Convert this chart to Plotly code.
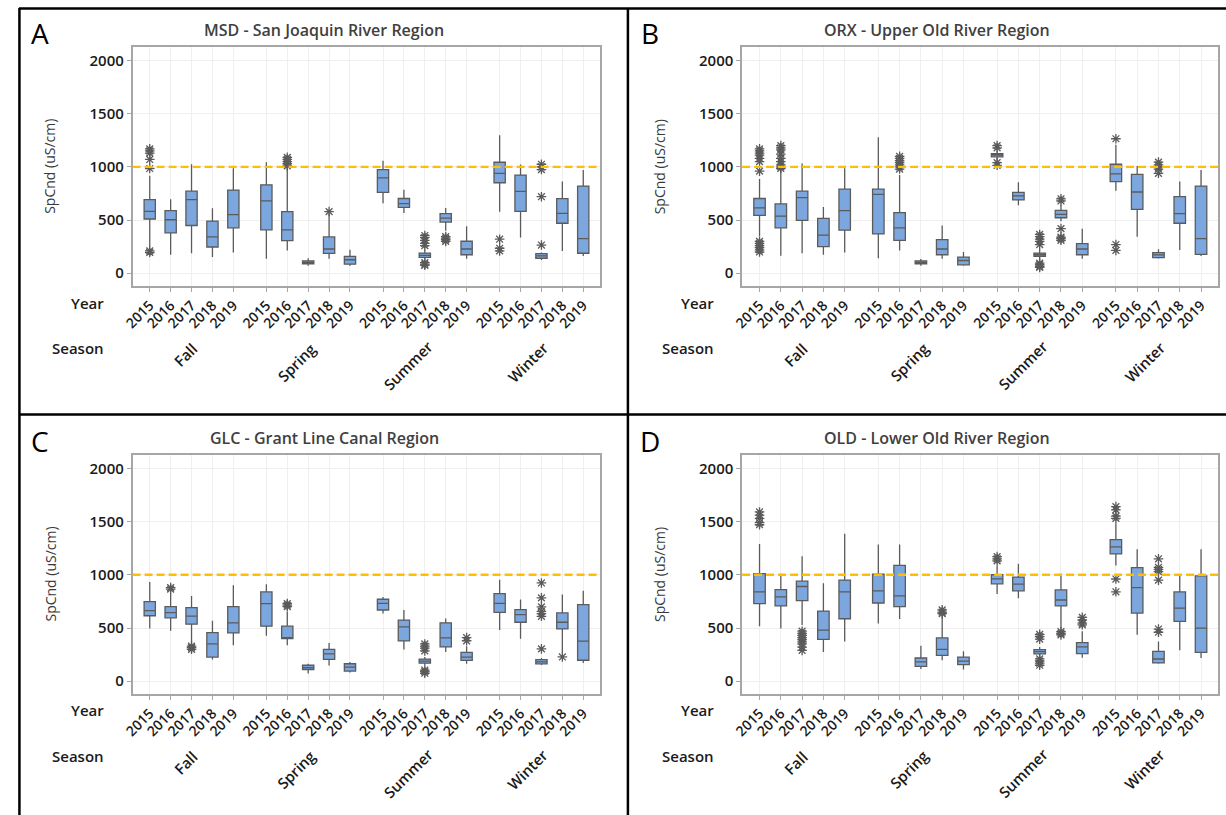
import plotly.graph_objects as go

W, H = 1226, 815

# ---------------- data ----------------
years = ["2015", "2016", "2017", "2018", "2019"]
seasons = ["Fall", "Spring", "Summer", "Winter"]
threshold = 1000

# order: Fall 2015..2019, Spring 2015..2019, Summer 2015..2019, Winter 2015..2019
A_title = "MSD - San Joaquin River Region"
A_q1 = [510, 380, 449, 247, 427, 408, 307, 88, 187, 85, 760, 620, 149, 481, 174, 851, 582, 141, 470, 188]
A_med = [582, 503, 693, 342, 551, 680, 408, 100, 228, 127, 896, 655, 168, 519, 228, 940, 770, 163, 563, 326]
A_q3 = [693, 589, 772, 491, 782, 832, 579, 115, 342, 158, 975, 703, 190, 560, 301, 1044, 923, 185, 701, 820]
A_lo = [253, 174, 187, 152, 196, 136, 215, 70, 136, 70, 658, 567, 133, 400, 136, 579, 335, 125, 210, 163]
A_hi = [918, 696, 1025, 611, 987, 1044, 997, 140, 560, 222, 1057, 785, 222, 614, 443, 1298, 1023, 194, 864, 970]
A_out_box = [0, 0, 0, 0, 0, 0, 0, 6, 6, 6, 6, 6, 8, 12, 12, 12, 12, 12, 12, 12, 12,
             13, 13, 13, 13, 15, 15, 15, 17, 17, 17, 17, 17]
A_out_val = [1170, 1150, 1130, 1070, 985, 210, 195, 1090, 1070, 1050, 1030, 1010, 580,
             355, 335, 310, 280, 260, 100, 85, 75, 345, 330, 315, 300, 320, 235, 210,
             1025, 1000, 975, 720, 265]

B_title = "ORX - Upper Old River Region"
B_q1 = [544, 427, 497, 250, 405, 370, 310, 88, 174, 79, 1095, 690, 158, 522, 174, 861, 601, 147, 470, 178]
B_med = [614, 538, 712, 358, 589, 741, 427, 100, 228, 120, 1111, 728, 174, 554, 228, 934, 764, 172, 560, 326]
B_q3 = [703, 652, 772, 516, 791, 791, 570, 115, 316, 152, 1124, 760, 190, 592, 279, 1025, 929, 194, 720, 820]
B_lo = [348, 165, 187, 174, 196, 142, 215, 70, 136, 70, 1060, 639, 127, 490, 136, 775, 344, 138, 219, 163]
B_hi = [886, 960, 1032, 623, 987, 1279, 924, 135, 449, 199, 1150, 855, 228, 642, 418, 1209, 1008, 225, 864, 970]
B_out_box = [0] * 13 + [1] * 9 + [6] * 7 + [10] * 4 + [12] * 9 + [13] * 6 + [15] * 3 + [17] * 5
B_out_val = [1170, 1150, 1130, 1110, 1080, 1050, 960, 300, 280, 260, 240, 220, 200,
             1200, 1180, 1160, 1120, 1080, 1050, 1020, 1000, 985,
             1100, 1080, 1060, 1040, 1020, 1000, 980,
             1200, 1180, 1040, 1015,
             365, 345, 320, 300, 270, 95, 80, 65, 55,
             700, 680, 420, 340, 325, 310,
             1265, 270, 215,
             1045, 1020, 1000, 980, 940]

C_title = "GLC - Grant Line Canal Region"
C_q1 = [615, 596, 536, 227, 454, 517, 401, 110, 205, 95, 669, 379, 170, 322, 196, 647, 554, 163, 491, 197]
C_med = [663, 644, 612, 350, 549, 729, 407, 128, 256, 133, 732, 511, 189, 407, 227, 732, 626, 182, 554, 376]
C_q3 = [748, 700, 691, 457, 700, 839, 517, 150, 300, 164, 770, 574, 208, 549, 271, 823, 673, 203, 642, 720]
C_lo = [495, 473, 360, 205, 338, 426, 338, 72, 148, 82, 637, 297, 148, 274, 164, 480, 398, 153, 266, 172]
C_hi = [931, 827, 801, 568, 902, 912, 653, 165, 360, 180, 790, 669, 227, 590, 328, 953, 767, 219, 814, 851]
C_out_box = [1, 1, 2, 2, 2, 6, 6, 6, 12, 12, 12, 12, 12, 12, 12, 14, 14,
             17, 17, 17, 17, 17, 17, 17, 18]
C_out_val = [880, 865, 330, 315, 300, 730, 715, 700, 350, 330, 310, 285, 105, 90, 75,
             410, 380, 923, 783, 698, 657, 635, 610, 304, 228]

D_title = "OLD - Lower Old River Region"
D_q1 = [729, 707, 757, 394, 587, 735, 700, 140, 243, 155, 915, 849, 256, 707, 259, 1196, 640, 172, 562, 271]
D_med = [839, 792, 890, 480, 839, 849, 801, 181, 300, 189, 962, 912, 278, 763, 322, 1262, 880, 209, 686, 499]
D_q3 = [1010, 861, 940, 659, 950, 1006, 1088, 218, 407, 227, 1000, 978, 297, 858, 363, 1331, 1067, 281, 839, 989]
D_lo = [517, 495, 527, 274, 372, 543, 584, 115, 196, 110, 820, 779, 233, 495, 221, 1088, 437, 165, 290, 218]
D_hi = [1290, 1010, 1174, 921, 1385, 1284, 1284, 334, 606, 281, 1085, 1104, 322, 1010, 470, 1483, 1239, 374, 989, 1239]
D_out_box = [0] * 5 + [2] * 9 + [8] * 3 + [10] * 3 + [12] * 7 + [13] * 3 + [14] * 4 + [15] * 6 + [17] * 7
D_out_val = [1590, 1560, 1530, 1490, 1470,
             470, 450, 430, 410, 390, 370, 350, 320, 290,
             670, 650, 635,
             1170, 1150, 1130,
             440, 420, 395, 210, 190, 170, 150,
             465, 450, 435,
             600, 575, 545, 530,
             1640, 1610, 1550, 1530, 960, 840,
             1150, 1070, 1050, 1030, 950, 490, 460]

# ---------------- layout constants ----------------
GROUP_STEP = 5.58
positions = [g * GROUP_STEP + i for g in range(len(seasons)) for i in range(len(years))]
XR = [-0.82, 3 * GROUP_STEP + 4 + 0.8]
YR = [-120, 2125]

FONT = "Open Sans"
BOX_FILL = "#7ba7de"
BOX_LINE = "#5b5b5b"
GRID = "#efefef"
FRAME = "#a6a6a6"
GOLD = "#ffbf00"

panels = [
    dict(letter="A", title=A_title, q1=A_q1, med=A_med, q3=A_q3, lo=A_lo, hi=A_hi,
         ob=A_out_box, ov=A_out_val, rect=(122.7, 47.3, 594.3, 286), dx=0, dy=0),
    dict(letter="B", title=B_title, q1=B_q1, med=B_med, q3=B_q3, lo=B_lo, hi=B_hi,
         ob=B_out_box, ov=B_out_val, rect=(737.7, 47.3, 1218, 286), dx=615, dy=0),
    dict(letter="C", title=C_title, q1=C_q1, med=C_med, q3=C_q3, lo=C_lo, hi=C_hi,
         ob=C_out_box, ov=C_out_val, rect=(122.7, 455, 594.3, 694), dx=0, dy=407.7),
    dict(letter="D", title=D_title, q1=D_q1, med=D_med, q3=D_q3, lo=D_lo, hi=D_hi,
         ob=D_out_box, ov=D_out_val, rect=(737.7, 455, 1218, 694), dx=615, dy=407.7),
]


def px(x):
    return x / W


def py(y):
    return 1 - y / H


fig = go.Figure()
annotations = []
shapes = []
layout_axes = {}

season_off = [-0.31, -0.55, -0.79, -0.65]
season_y = [355, 361.7, 365, 361.7]

for k, p in enumerate(panels):
    n = "" if k == 0 else str(k + 1)
    xa, ya = "x" + n, "y" + n
    x0, y0, x1, y1 = p["rect"]

    fig.add_trace(go.Box(
        x=positions, q1=p["q1"], median=p["med"], q3=p["q3"],
        lowerfence=p["lo"], upperfence=p["hi"],
        xaxis=xa, yaxis=ya, width=0.54, whiskerwidth=0,
        fillcolor=BOX_FILL, line=dict(color=BOX_LINE, width=1.3),
        boxpoints=False, showlegend=False,
    ))
    fig.add_trace(go.Scatter(
        x=[positions[i] for i in p["ob"]], y=p["ov"], mode="markers",
        xaxis=xa, yaxis=ya, showlegend=False,
        marker=dict(symbol="asterisk-open", size=8, color="#5a5a5a",
                    line=dict(color="#5a5a5a", width=1.3)),
    ))

    layout_axes["xaxis" + n] = dict(
        domain=[px(x0), px(x1)], anchor=ya, range=XR,
        tickmode="array", tickvals=positions, ticktext=years * 4, tickangle=-45,
        ticks="outside", ticklen=4, tickcolor=FRAME,
        showgrid=True, gridcolor=GRID, gridwidth=1, zeroline=False,
        showline=True, linecolor=FRAME, linewidth=1.5, mirror=True,
        tickfont=dict(family=FONT, size=14, color="#1a1a1a", weight=600),
    )
    layout_axes["yaxis" + n] = dict(
        domain=[py(y1), py(y0)], anchor=xa, range=YR,
        tickmode="array", tickvals=[0, 500, 1000, 1500, 2000],
        ticks="outside", ticklen=4, tickcolor=FRAME,
        showgrid=True, gridcolor=GRID, gridwidth=1, zeroline=False,
        showline=True, linecolor=FRAME, linewidth=1.5, mirror=True,
        tickfont=dict(family=FONT, size=15, color="#1a1a1a", weight=600),
    )

    # reference line
    shapes.append(dict(type="line", xref=xa + " domain", yref=ya, x0=0, x1=1,
                       y0=threshold, y1=threshold, layer="above",
                       line=dict(color=GOLD, width=2.4, dash="8px,4px")))

    dx, dy = p["dx"], p["dy"]
    annotations.append(dict(text=p["letter"], xref="paper", yref="paper",
                            x=px(29.7 + dx), y=py(33.3 + dy), showarrow=False,
                            xanchor="center", yanchor="middle",
                            font=dict(family=FONT, size=28, color="#000000")))
    annotations.append(dict(text=p["title"], xref="paper", yref="paper",
                            x=px(316 + dx + (3 if dx else 0)), y=py(30 + dy), showarrow=False,
                            xanchor="center", yanchor="middle",
                            font=dict(family=FONT, size=16, color="#404040", weight=600)))
    annotations.append(dict(text="SpCnd (uS/cm)", xref="paper", yref="paper",
                            x=px(39.5 + dx), y=py(166.7 + dy), showarrow=False,
                            textangle=-90, xanchor="center", yanchor="middle",
                            font=dict(family=FONT, size=14, color="#3a3a3a")))
    annotations.append(dict(text="Year", xref="paper", yref="paper",
                            x=px(96 + dx), y=py(302.7 + dy), showarrow=False,
                            xanchor="right", yanchor="middle",
                            font=dict(family=FONT, size=15, color="#1a1a1a", weight=600)))
    annotations.append(dict(text="Season", xref="paper", yref="paper",
                            x=px(96 + dx), y=py(348.3 + dy), showarrow=False,
                            xanchor="right", yanchor="middle",
                            font=dict(family=FONT, size=15, color="#1a1a1a", weight=600)))
    for g, s in enumerate(seasons):
        annotations.append(dict(text=s, xref=xa, yref="paper",
                                x=g * GROUP_STEP + 2 + season_off[g], y=py(season_y[g] + dy),
                                showarrow=False, textangle=-45,
                                xanchor="center", yanchor="middle",
                                font=dict(family=FONT, size=15, color="#1a1a1a", weight=600)))

# frame / divider lines
frame_line = dict(color="#000000", width=2.5)
shapes += [
    dict(type="line", xref="paper", yref="paper", x0=px(8.5), x1=px(8.5), y0=py(8), y1=0, line=frame_line),
    dict(type="line", xref="paper", yref="paper", x0=px(8), x1=1, y0=py(8.5), y1=py(8.5), line=frame_line),
    dict(type="line", xref="paper", yref="paper", x0=px(622.5), x1=px(622.5), y0=py(8), y1=0, line=frame_line),
    dict(type="line", xref="paper", yref="paper", x0=px(8), x1=1, y0=py(414.5), y1=py(414.5), line=frame_line),
]

fig.update_layout(
    width=W, height=H, margin=dict(l=0, r=0, t=0, b=0),
    paper_bgcolor="white", plot_bgcolor="white",
    annotations=annotations, shapes=shapes, showlegend=False,
    font=dict(family=FONT),
    **layout_axes,
)

fig.write_html("out.html")
